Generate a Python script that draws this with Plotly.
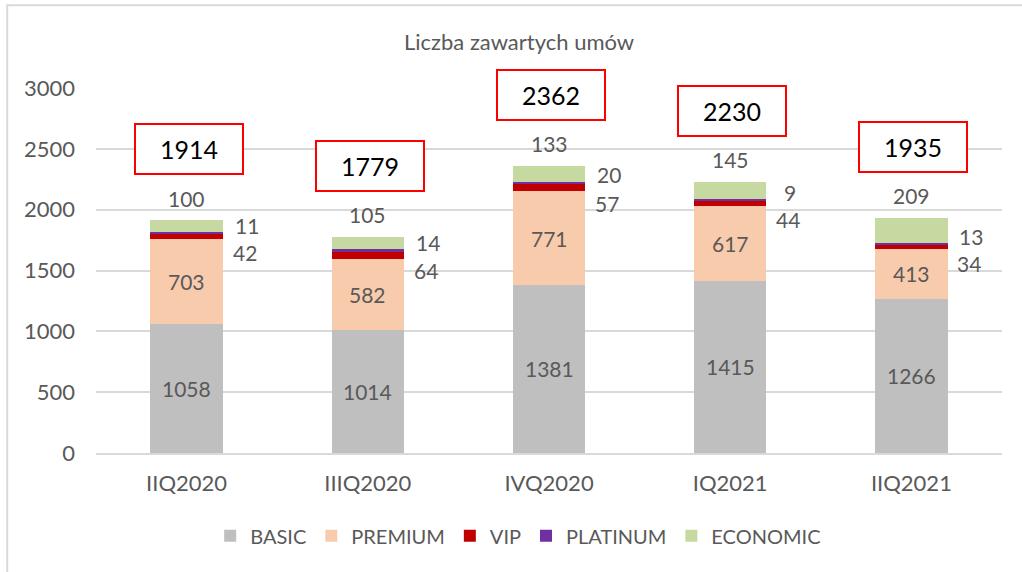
import plotly.graph_objects as go

categories = ["IIQ2020", "IIIQ2020", "IVQ2020", "IQ2021", "IIQ2021"]
basic = [1058, 1014, 1381, 1415, 1266]
premium = [703, 582, 771, 617, 413]
vip = [42, 64, 57, 44, 34]
platinum = [11, 14, 20, 9, 13]
economic = [100, 105, 133, 145, 209]
totals = [1914, 1779, 2362, 2230, 1935]

series = [
    ("BASIC", basic, "#bfbfbf"),
    ("PREMIUM", premium, "#f8cbad"),
    ("VIP", vip, "#c00000"),
    ("PLATINUM", platinum, "#7030a0"),
    ("ECONOMIC", economic, "#c5d9a0"),
]

FONT = "Lato, Open Sans, sans-serif"
GRAY = "#595959"
LBL = 21

fig = go.Figure()
for name, vals, col in series:
    fig.add_trace(go.Bar(name=name, x=categories, y=vals, marker=dict(color=col, line=dict(width=0)),
                         hoverinfo="y+name"))

ann = []
for i, c in enumerate(categories):
    b, p, v, pl, e = basic[i], premium[i], vip[i], platinum[i], economic[i]
    ann.append(dict(x=c, y=b / 2, text=str(b), showarrow=False, font=dict(size=LBL, color=GRAY, family=FONT)))
    ann.append(dict(x=c, y=b + p / 2, text=str(p), showarrow=False, font=dict(size=LBL, color=GRAY, family=FONT)))
    top_v = b + p + v
    top_pl = top_v + pl
    top = top_pl + e
    ann.append(dict(x=c, y=top_v, text=str(v), showarrow=False, xshift=58, yshift=-19,
                    font=dict(size=LBL, color=GRAY, family=FONT)))
    ann.append(dict(x=c, y=top_pl, text=str(pl), showarrow=False, xshift=60, yshift=7,
                    font=dict(size=LBL, color=GRAY, family=FONT)))
    ann.append(dict(x=c, y=top, text=str(e), showarrow=False, yshift=22,
                    font=dict(size=LBL, color=GRAY, family=FONT)))
    ann.append(dict(x=c, y=totals[i] + 600, text=str(totals[i]), showarrow=False, xshift=2, yshift=-2,
                    font=dict(size=25, color="black", family=FONT),
                    bordercolor="#ff0000", borderwidth=2, width=104, height=46, bgcolor="white"))

ann.append(dict(xref="paper", yref="paper", x=0.467, y=1.128, yanchor="middle",
                text="Liczba zawartych umów", showarrow=False,
                font=dict(size=22, color=GRAY, family=FONT)))

fig.update_layout(
    barmode="stack",
    bargap=0.6,
    width=1022, height=572,
    margin=dict(l=96, r=20, t=88, b=119),
    paper_bgcolor="white", plot_bgcolor="white",
    font=dict(family=FONT, color=GRAY, size=18),
    annotations=ann,
    legend=dict(orientation="h", x=0.466, xanchor="center", y=-0.227, yanchor="middle",
                font=dict(size=20, color=GRAY, family=FONT), itemwidth=30, traceorder="normal"),
    yaxis=dict(range=[0, 3000], dtick=500, showgrid=True, gridcolor="#d9d9d9", gridwidth=1.5,
               zeroline=False, tickfont=dict(size=22, color=GRAY), ticks="", ticklabelstandoff=20),
    xaxis=dict(showline=True, linecolor="#d9d9d9", linewidth=1.5, tickfont=dict(size=22, color=GRAY),
               ticks="", ticklabelstandoff=10),
    shapes=[dict(type="rect", xref="paper", yref="paper", x0=-0.098, x1=1.1, y0=-0.6, y1=1.227,
                 line=dict(color="#d9d9d9", width=2), layer="below")],
)

fig.write_html("out.html", config={"displayModeBar": False},
               post_script="document.body.style.margin='0';")
